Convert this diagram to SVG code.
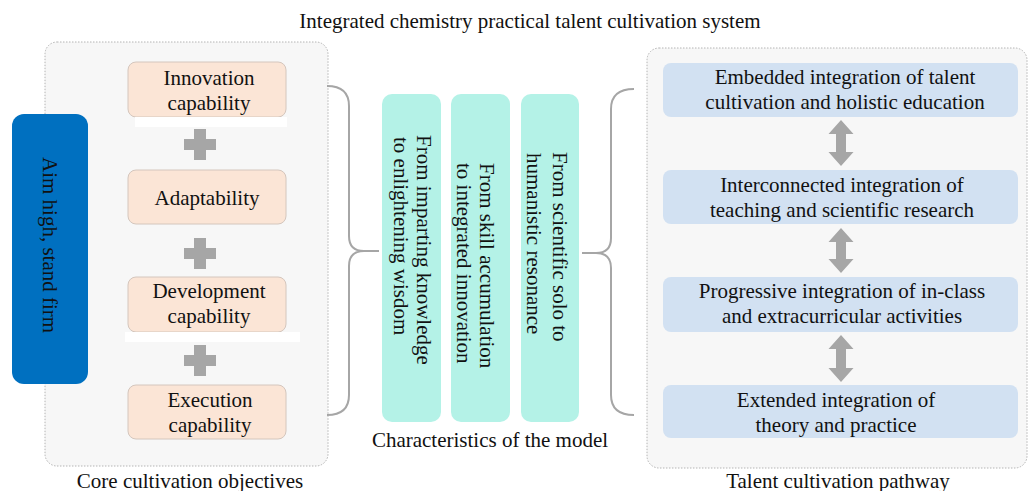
<svg xmlns="http://www.w3.org/2000/svg" width="1029" height="491" viewBox="0 0 1029 491" font-family="'Liberation Serif', 'Times New Roman', serif" font-size="21">
<defs>
<style>
text, .c, .r{font-family:"Liberation Serif","Times New Roman",serif;font-size:21px;fill:#111;}
.c{text-anchor:middle;}
.cont{fill:#f7f7f7;stroke:#b4b4b4;stroke-width:1;stroke-dasharray:1.5,1.5;}
.peach{fill:#fbe5d6;stroke:#d4c6bd;stroke-width:1;}
.teal{fill:#b4f2e7;}
.lb{fill:#d2e1f2;}
.plus{fill:#a6a6a6;}
.brace{fill:none;stroke:#a6a6a6;stroke-width:2;}
.arr{fill:#a6a6a6;}
</style>
</defs>
<rect width="1029" height="491" fill="#ffffff"/>
<text id="title" class="c" x="530" y="28" font-family="'Liberation Serif', serif">Integrated chemistry practical talent cultivation system</text>

<g id="core-objectives">
<rect class="cont" x="45" y="42" width="283" height="424" rx="12"/>
<text class="c" x="190" y="488" font-family="'Liberation Serif', serif">Core cultivation objectives</text>
</g>

<g id="aim-high">
<rect x="12" y="114" width="76" height="270" rx="12" fill="#0070c0"/>
<text class="r" x="43" y="157" transform="rotate(90 43 157)">Aim high, stand firm</text>
</g>

<g id="innovation" font-family="'Liberation Serif', serif">
<rect class="peach" x="128" y="62" width="158" height="55" rx="8"/>
<text class="c" x="209" y="85">Innovation</text>
<text class="c" x="209" y="110">capability</text>
<rect x="135" y="117" width="152" height="10" fill="#ffffff"/>
</g>
<g id="adaptability" font-family="'Liberation Serif', serif">
<rect class="peach" x="128" y="170" width="158" height="54" rx="8"/>
<text class="c" x="207" y="205">Adaptability</text>
</g>
<g id="development" font-family="'Liberation Serif', serif">
<rect class="peach" x="128" y="277" width="158" height="55" rx="8"/>
<text class="c" x="209" y="298">Development</text>
<text class="c" x="209" y="323">capability</text>
<rect x="125" y="332" width="175" height="10" fill="#ffffff"/>
</g>
<g id="execution" font-family="'Liberation Serif', serif">
<rect class="peach" x="128" y="385" width="158" height="54" rx="8"/>
<text class="c" x="210" y="407">Execution</text>
<text class="c" x="210" y="432">capability</text>
</g>

<g id="plus-signs">
<path class="plus" d="M194,129h12v10h10v11h-10v10h-12v-10h-10v-11h10z"/>
<path class="plus" d="M194,238h12v10h10v11h-10v10h-12v-10h-10v-11h10z"/>
<path class="plus" d="M194,345h12v10h10v11h-10v10h-12v-10h-10v-11h10z"/>
</g>

<g id="characteristics" font-family="'Liberation Serif', serif">
<text class="c" x="490" y="447">Characteristics of the model</text>
</g>
<g id="char1">
<rect class="teal" x="382" y="94" width="59" height="328" rx="10"/>
<text class="r" x="417" y="135" transform="rotate(90 417 135)">From imparting knowledge</text>
<text class="r" x="394" y="137" transform="rotate(90 394 137)">to enlightening wisdom</text>
</g>
<g id="char2">
<rect class="teal" x="451" y="94" width="59" height="328" rx="10"/>
<text class="r" x="480" y="163" transform="rotate(90 480 163)">From skill accumulation</text>
<text class="r" x="457" y="163" transform="rotate(90 457 163)">to integrated innovation</text>
</g>
<g id="char3">
<rect class="teal" x="521" y="94" width="58" height="328" rx="10"/>
<text class="r" x="553" y="152" transform="rotate(90 553 152)">From scientific solo to</text>
<text class="r" x="527" y="153" transform="rotate(90 527 153)">humanistic resonance</text>
</g>

<g id="pathway" font-family="'Liberation Serif', serif">
<rect class="cont" x="647" y="48" width="380" height="420" rx="12"/>
<text class="c" x="838" y="488">Talent cultivation pathway</text>
</g>
<g id="path1" font-family="'Liberation Serif', serif">
<rect class="lb" x="663" y="63" width="355" height="54" rx="8"/>
<text class="c" x="845" y="84">Embedded integration of talent</text>
<text class="c" x="845" y="109">cultivation and holistic education</text>
</g>
<g id="path2" font-family="'Liberation Serif', serif">
<rect class="lb" x="663" y="170" width="355" height="54" rx="8"/>
<text class="c" x="842" y="192">Interconnected integration of</text>
<text class="c" x="842" y="217">teaching and scientific research</text>
</g>
<g id="path3" font-family="'Liberation Serif', serif">
<rect class="lb" x="663" y="277" width="355" height="55" rx="8"/>
<text class="c" x="842" y="298">Progressive integration of in-class</text>
<text class="c" x="842" y="323">and extracurricular activities</text>
</g>
<g id="path4" font-family="'Liberation Serif', serif">
<rect class="lb" x="663" y="385" width="355" height="53" rx="8"/>
<text class="c" x="836" y="407">Extended integration of</text>
<text class="c" x="836" y="432">theory and practice</text>
</g>

<g id="connectors">
<path class="brace" d="M327,86 Q349,86 349,106 L349,236 Q349,251 364,251 L379,251 M364,251 Q349,251 349,266 L349,395 Q349,415 327,415"/>
<path class="brace" d="M634,89 Q611,89 611,109 L611,238 Q611,253 596,253 L582,253 M596,253 Q611,253 611,268 L611,395 Q611,415 634,415"/>
<path class="arr" d="M841,120 L853.5,134 L846,134 L846,152 L853.5,152 L841,166 L828.5,152 L836,152 L836,134 L828.5,134 Z"/>
<path class="arr" d="M841,228 L853.5,242 L846,242 L846,259 L853.5,259 L841,273 L828.5,259 L836,259 L836,242 L828.5,242 Z"/>
<path class="arr" d="M841,335 L853.5,349 L846,349 L846,368 L853.5,368 L841,382 L828.5,368 L836,368 L836,349 L828.5,349 Z"/>
</g>
</svg>
